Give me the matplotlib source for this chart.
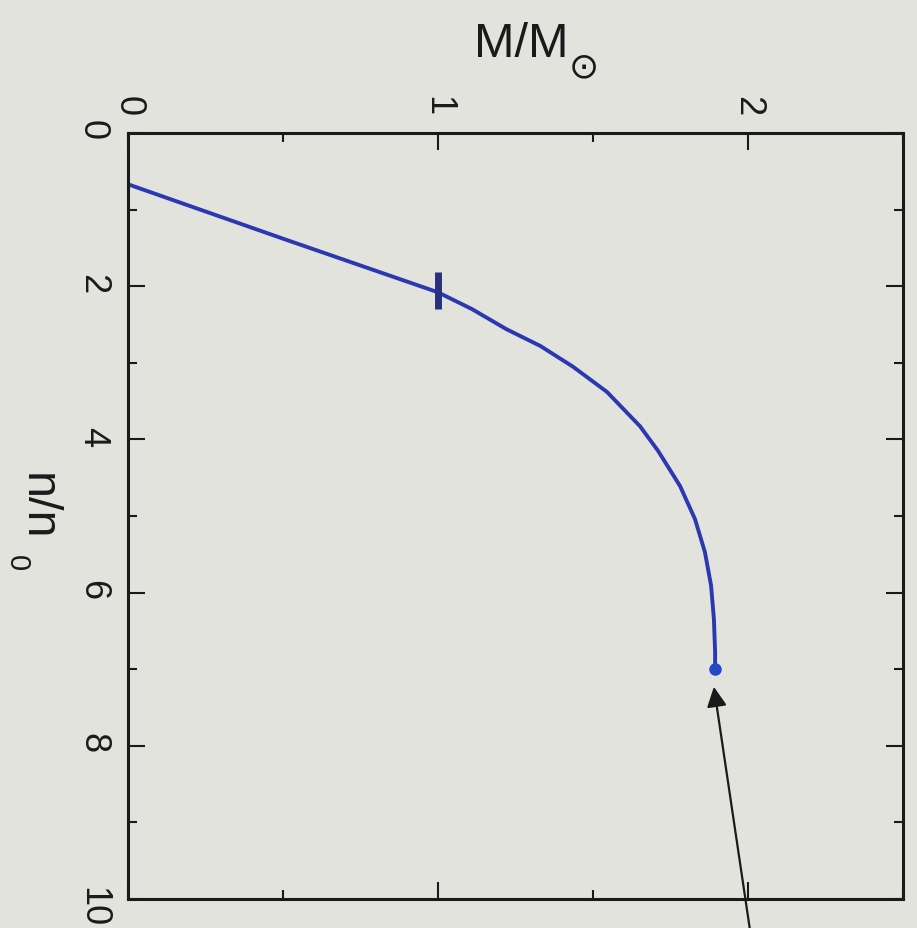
import matplotlib
matplotlib.use("Agg")
import matplotlib.pyplot as plt
from matplotlib.ticker import MultipleLocator

plt.rcParams['font.family'] = ['Liberation Sans', 'DejaVu Sans']

# mass-density curve
n_vals = [0.67, 1.38, 2.08, 2.30, 2.56, 2.78, 3.05, 3.38, 3.83, 4.15, 4.61, 5.04, 5.47, 5.91, 6.34, 6.78, 7.0]
m_vals = [0.0, 0.50, 1.00, 1.11, 1.22, 1.33, 1.435, 1.545, 1.652, 1.71, 1.781, 1.829, 1.861, 1.881, 1.890, 1.894, 1.894]

# vertical bar at M = 1
bar_m = 1.0
bar_n = [1.81, 2.30]

# maximum-mass point and arrow
max_n = 7.0
max_m = 1.894
arrow_tail = (2.01, 10.5)
arrow_tip = (1.89, 7.23)

bg = '#e3e3de'
ink = '#1a1a1a'
fig = plt.figure(figsize=(9.17, 9.29), dpi=100, facecolor=bg)
ax = fig.add_axes([0.1396, 0.0312, 0.8451, 0.8246], facecolor=bg)

ax.plot(m_vals, n_vals, color='#2b38b0', lw=2.8, solid_capstyle='round',
        solid_joinstyle='round')
ax.plot([bar_m, bar_m], bar_n, color='#2a2f7e', lw=5, solid_capstyle='butt')
ax.plot([max_m], [max_n], 'o', color='#2448c8', ms=8)

ax.annotate('', xy=arrow_tip, xytext=arrow_tail, xycoords='data',
            arrowprops=dict(arrowstyle='-|>', color=ink, lw=1.6,
                            mutation_scale=30, shrinkA=0, shrinkB=0),
            annotation_clip=False)

ax.set_xlim(0, 2.5)
ax.set_ylim(10, 0)

ax.xaxis.set_major_locator(MultipleLocator(1))
ax.xaxis.set_minor_locator(MultipleLocator(0.5))
ax.yaxis.set_major_locator(MultipleLocator(2))
ax.yaxis.set_minor_locator(MultipleLocator(1))

ax.tick_params(which='both', direction='in', top=True, bottom=True,
               left=True, right=True, labeltop=True, labelbottom=False,
               color=ink, width=1.5, labelsize=26, labelcolor=ink)
ax.tick_params(which='major', length=12, pad=13)
ax.tick_params(which='minor', length=6.5)
ax.tick_params(axis='x', labelrotation=-90)
ax.tick_params(axis='y', labelrotation=-90)

for s in ax.spines.values():
    s.set_linewidth(2.2)
    s.set_color(ink)

# axis titles (the scan is turned a quarter turn clockwise)
fig.text(521 / 917, 1 - 57 / 929, 'M/M', fontsize=35, color=ink,
         ha='center', va='baseline')
fig.text(584 / 917, 1 - 67 / 929, '\u2299', fontsize=26, color=ink,
         ha='center', va='center', family=['DejaVu Sans'])
fig.text(37 / 917, 1 - 507 / 929, 'n/n', fontsize=35, color=ink,
         rotation=-90, ha='center', va='center')
fig.text(17 / 917, 1 - 563 / 929, '0', fontsize=21, color=ink,
         rotation=-90, ha='center', va='center')

fig.savefig('out.png', dpi=100, facecolor=bg)
